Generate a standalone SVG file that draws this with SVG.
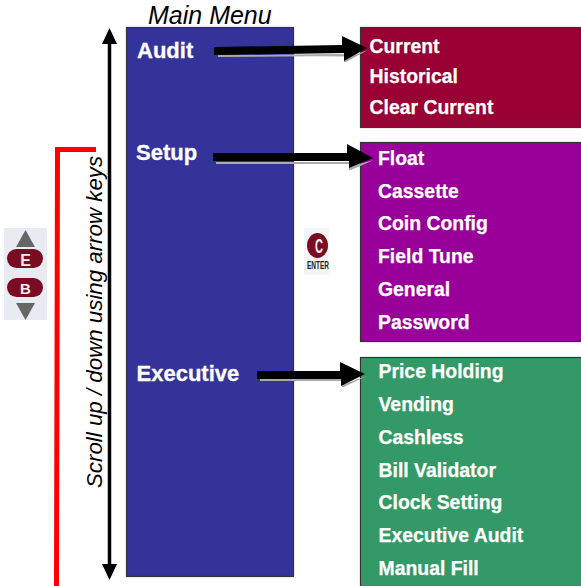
<svg xmlns="http://www.w3.org/2000/svg" width="581" height="586" viewBox="0 0 581 586">
<style>
text{font-family:"Liberation Sans",Arial,sans-serif}
.b{font-weight:bold;fill:#fff;font-size:19.4px;stroke:#fff;stroke-width:.25}
.m{font-weight:bold;fill:#fff;font-size:22px;stroke:#fff;stroke-width:.3}
.i{font-style:italic;fill:#000}
.box{stroke:#333;stroke-width:1.2}
.ar{fill:#000}
.sh{fill:#aaa}
.key{fill:#7a0c22}
.tri{fill:#666}
.kt{font-weight:bold;fill:#f2eeee;text-anchor:middle}
</style>
<rect width="581" height="586" fill="#fff"/>
<g id="connectors">
<path d="M56.500 586L57.500 149.500H96" fill="none" stroke="#f00" stroke-width="5"/>
<path d="M109.500 42V566" stroke="#000" stroke-width="3.500"/>
<path class="ar" d="M109.500 28L117 44H102ZM109.500 580L102 564H117Z"/>
</g>
<g id="main-menu">
<rect class="box" x="126.500" y="27.500" width="167" height="549" fill="#333399"/>
<text class="i" x="148" y="24" font-size="25">Main Menu</text>
<text class="m" x="137" y="58">Audit</text>
<text class="m" x="136" y="160">Setup</text>
<text class="m" x="136.500" y="381">Executive</text>
</g>
<g id="scroll-label"><text class="i" transform="translate(102 488)rotate(-90)" font-size="22.300">Scroll up / down using arrow keys</text></g>
<g id="audit-menu">
<rect class="box" x="360.500" y="27.500" width="221" height="100" fill="#990033"/>
<text class="b" x="369.500" y="53">Current</text>
<text class="b" x="369.500" y="83">Historical</text>
<text class="b" x="369.500" y="114">Clear Current</text>
</g>
<g id="setup-menu">
<rect class="box" x="360.500" y="142.500" width="221" height="199" fill="#990099"/>
<text class="b" x="378" y="165">Float</text>
<text class="b" x="378" y="198">Cassette</text>
<text class="b" x="378" y="230">Coin Config</text>
<text class="b" x="378" y="263">Field Tune</text>
<text class="b" x="378" y="296">General</text>
<text class="b" x="378" y="329">Password</text>
</g>
<g id="executive-menu">
<rect class="box" x="360.500" y="357.500" width="221" height="229" fill="#339966"/>
<text class="b" x="378.500" y="378">Price Holding</text>
<text class="b" x="378.500" y="411">Vending</text>
<text class="b" x="378.500" y="444">Cashless</text>
<text class="b" x="378.500" y="477">Bill Validator</text>
<text class="b" x="378.500" y="509">Clock Setting</text>
<text class="b" x="378.500" y="542">Executive Audit</text>
<text class="b" x="378.500" y="575">Manual Fill</text>
</g>
<g id="arrows">
<path class="sh" d="M218 55L344 54V62L346 62L368 50L346 58V56L218 57ZM216 162L349 162V170L351 170L374 160L351 166V164L216 164ZM260 379L342 379V387L344 387L367 376L344 384V381L260 381Z"/>
<path class="ar" d="M214 47L342 45V36L367 48L344 61V53L214 55ZM213 153L347 153V144L373 158L349 168V161L213 161ZM257 371L340 371V362L365 374L341 386V379L257 379Z"/>
</g>
<g id="scroll-keys">
<rect x="4" y="228" width="43" height="92" fill="#e8ecf2"/>
<path class="tri" d="M25.500 230L35 247H16Z"/>
<path class="tri" d="M25.500 320L35 303H16Z"/>
<rect class="key" x="7" y="249" width="36" height="19" rx="9.500"/>
<rect class="key" x="7" y="278" width="36" height="19" rx="9.500"/>
<text class="kt" x="25.500" y="266" font-size="16">E</text>
<text class="kt" x="25.500" y="293.500" font-size="15">B</text>
</g>
<g id="enter-key">
<rect x="304" y="228" width="25" height="47" fill="#f4f5f7"/>
<ellipse class="key" cx="317.500" cy="245.500" rx="10.500" ry="12.500"/>
<text class="kt" x="319" y="253" font-size="20" textLength="8" lengthAdjust="spacingAndGlyphs">C</text>
<text x="318" y="269" font-size="11" font-weight="bold" fill="#222" text-anchor="middle" textLength="22" lengthAdjust="spacingAndGlyphs">ENTER</text>
</g>
</svg>
